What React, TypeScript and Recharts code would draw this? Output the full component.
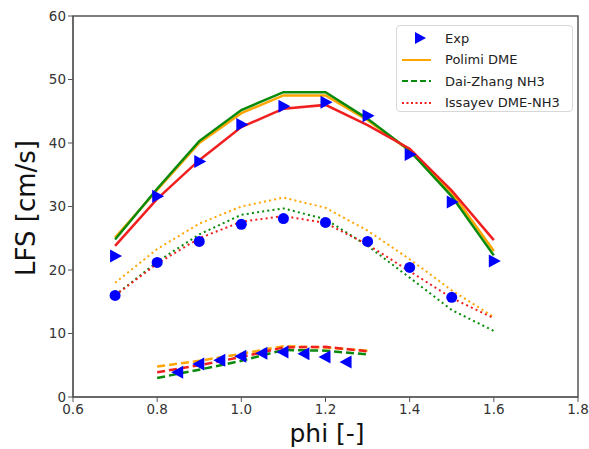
import { ComposedChart, Line, Scatter, XAxis, YAxis, ReferenceArea } from "recharts";

const xTicks = [0.6, 0.8, 1.0, 1.2, 1.4, 1.6, 1.8];
const yTicks = [0, 10, 20, 30, 40, 50, 60];

// upper group (solid lines, right-pointing triangles)
const phiTop = [0.7, 0.8, 0.9, 1.0, 1.1, 1.2, 1.3, 1.4, 1.5, 1.6];
const expTop = [22.2, 31.6, 37.1, 42.9, 45.8, 46.4, 44.3, 38.2, 30.7, 21.4];
const polimiTop = [25.1, 32.6, 40.0, 44.7, 47.5, 47.5, 43.6, 38.8, 32.2, 23.0];
const daiTop = [24.8, 32.8, 40.3, 45.2, 48.0, 48.0, 43.8, 38.8, 31.6, 22.3];
const issTop = [23.8, 31.2, 37.3, 42.5, 45.4, 46.0, 42.8, 39.1, 32.5, 24.7];

// middle group (dotted lines, circles)
const phiMid = [0.7, 0.8, 0.9, 1.0, 1.1, 1.2, 1.3, 1.4, 1.5, 1.6];
const phiExpMid = [0.7, 0.8, 0.9, 1.0, 1.1, 1.2, 1.3, 1.4, 1.5];
const expMid = [16.0, 21.2, 24.5, 27.2, 28.1, 27.5, 24.5, 20.4, 15.7];
const polimiMid = [18.0, 23.3, 27.3, 30.0, 31.4, 29.8, 26.2, 21.7, 16.8, 12.6];
const daiMid = [16.0, 21.3, 25.6, 28.7, 29.7, 28.0, 23.8, 18.8, 13.7, 10.4];
const issMid = [16.0, 21.0, 25.0, 27.6, 28.5, 27.4, 24.0, 19.8, 15.6, 12.4];

// lower group (dashed lines, left-pointing triangles)
const phiBot = [0.8, 0.9, 1.0, 1.1, 1.2, 1.3];
const polimiBot = [4.8, 5.7, 6.8, 8.0, 7.8, 7.3];
const daiBot = [3.0, 4.3, 5.7, 7.4, 7.3, 6.7];
const issBot = [3.9, 5.0, 6.3, 7.8, 7.9, 7.2];
const phiExpBot = [0.85, 0.9, 0.95, 1.0, 1.05, 1.1, 1.15, 1.2, 1.25];
const expBot = [3.9, 5.2, 5.8, 6.4, 6.9, 7.1, 6.8, 6.3, 5.5];

const ORANGE = "#ffa500";
const GREEN = "#0a8a0a";
const RED = "#f02020";
const BLUE = "#0000ff";
const FONT = "DejaVu Sans, Verdana, sans-serif";

const pts = (xs: number[], ys: number[]) => xs.map((x, i) => ({ x, y: ys[i] }));

const triRight = (p: any) => (
  <polygon
    points={`${p.cx - 5},${p.cy - 6.5} ${p.cx + 7},${p.cy} ${p.cx - 5},${p.cy + 6.5}`}
    fill={BLUE}
  />
);
const triLeft = (p: any) => (
  <polygon
    points={`${p.cx + 5},${p.cy - 6.5} ${p.cx - 7},${p.cy} ${p.cx + 5},${p.cy + 6.5}`}
    fill={BLUE}
  />
);
const dot = (p: any) => <circle cx={p.cx} cy={p.cy} r={5.5} fill={BLUE} />;

const SOLID = undefined;
const DOTTED = "2 3.2";
const DASHED = "8 4";

function Legendbox() {
  const rows = [
    { label: "Exp", kind: "marker" },
    { label: "Polimi DME", kind: "line", color: ORANGE, dash: SOLID },
    { label: "Dai-Zhang NH3", kind: "line", color: GREEN, dash: "6 3" },
    { label: "Issayev DME-NH3", kind: "line", color: RED, dash: "2 2.5" },
  ];
  return (
    <div
      style={{
        position: "absolute",
        left: 396,
        top: 25,
        width: 177,
        height: 87,
        border: "1px solid #d8d8d8",
        borderRadius: 4,
        background: "rgba(255,255,255,0.85)",
        fontFamily: FONT,
        fontSize: 13,
        color: "#222",
        boxSizing: "border-box",
      }}
    >
      {rows.map((r, i) => (
        <div
          key={r.label}
          style={{ position: "absolute", left: 0, top: 2 + i * 21.5, height: 20, display: "flex", alignItems: "center" }}
        >
          <svg width={44} height={20} style={{ marginLeft: 4 }}>
            {r.kind === "marker" ? (
              <polygon points="14,4 25,10 14,16" fill={BLUE} />
            ) : (
              <line x1={1} y1={10} x2={30} y2={10} stroke={r.color} strokeWidth={2} strokeDasharray={r.dash} />
            )}
          </svg>
          <span>{r.label}</span>
        </div>
      ))}
    </div>
  );
}

export default function App() {
  return (
    <div style={{ position: "absolute", left: 0, top: 0, width: 589, height: 449, background: "#fff" }}>
      <ComposedChart width={589} height={449} margin={{ top: 16, right: 11, left: 0, bottom: 0 }}>
        <XAxis
          type="number"
          dataKey="x"
          domain={[0.6, 1.8]}
          ticks={xTicks}
          tickFormatter={(v) => v.toFixed(1)}
          height={52}
          stroke="#555"
          tick={{ fontSize: 13.5, fill: "#333", fontFamily: FONT }}
          tickSize={5}
          allowDataOverflow
          label={{
            content: () => (
              <text x={327} y={433} textAnchor="middle" dominantBaseline="central" fontSize={25} fontFamily={FONT} fill="#111">
                phi [-]
              </text>
            ),
          }}
        />
        <YAxis
          type="number"
          dataKey="y"
          domain={[0, 60]}
          ticks={yTicks}
          width={73}
          stroke="#555"
          tick={{ fontSize: 13.5, fill: "#333", fontFamily: FONT }}
          tickSize={5}
          label={{
            content: () => (
              <text
                x={26}
                y={208}
                transform="rotate(-90 26 208)"
                textAnchor="middle"
                dominantBaseline="central"
                fontSize={26}
                fontFamily={FONT}
                fill="#111"
              >
                LFS [cm/s]
              </text>
            ),
          }}
        />
        <ReferenceArea x1={0.6} x2={1.8} y1={0} y2={60} fill="none" stroke="#555" strokeWidth={1.5} ifOverflow="visible" />

        <Scatter data={pts(phiTop, expTop)} dataKey="y" shape={triRight} isAnimationActive={false} />
        <Scatter data={pts(phiExpMid, expMid)} dataKey="y" shape={dot} isAnimationActive={false} />
        <Scatter data={pts(phiExpBot, expBot)} dataKey="y" shape={triLeft} isAnimationActive={false} />

        <Line data={pts(phiTop, polimiTop)} dataKey="y" stroke={ORANGE} strokeWidth={2.5} dot={false} type="linear" isAnimationActive={false} />
        <Line data={pts(phiTop, daiTop)} dataKey="y" stroke={GREEN} strokeWidth={2.5} dot={false} type="linear" isAnimationActive={false} />
        <Line data={pts(phiTop, issTop)} dataKey="y" stroke={RED} strokeWidth={2.5} dot={false} type="linear" isAnimationActive={false} />

        <Line data={pts(phiMid, polimiMid)} dataKey="y" stroke={ORANGE} strokeWidth={2} strokeDasharray={DOTTED} dot={false} type="linear" isAnimationActive={false} />
        <Line data={pts(phiMid, daiMid)} dataKey="y" stroke={GREEN} strokeWidth={2} strokeDasharray={DOTTED} dot={false} type="linear" isAnimationActive={false} />
        <Line data={pts(phiMid, issMid)} dataKey="y" stroke={RED} strokeWidth={2} strokeDasharray={DOTTED} dot={false} type="linear" isAnimationActive={false} />

        <Line data={pts(phiBot, polimiBot)} dataKey="y" stroke={ORANGE} strokeWidth={2.5} strokeDasharray={DASHED} dot={false} type="linear" isAnimationActive={false} />
        <Line data={pts(phiBot, daiBot)} dataKey="y" stroke={GREEN} strokeWidth={2.5} strokeDasharray={DASHED} dot={false} type="linear" isAnimationActive={false} />
        <Line data={pts(phiBot, issBot)} dataKey="y" stroke={RED} strokeWidth={2.5} strokeDasharray={DASHED} dot={false} type="linear" isAnimationActive={false} />
      </ComposedChart>
      <Legendbox />
    </div>
  );
}
